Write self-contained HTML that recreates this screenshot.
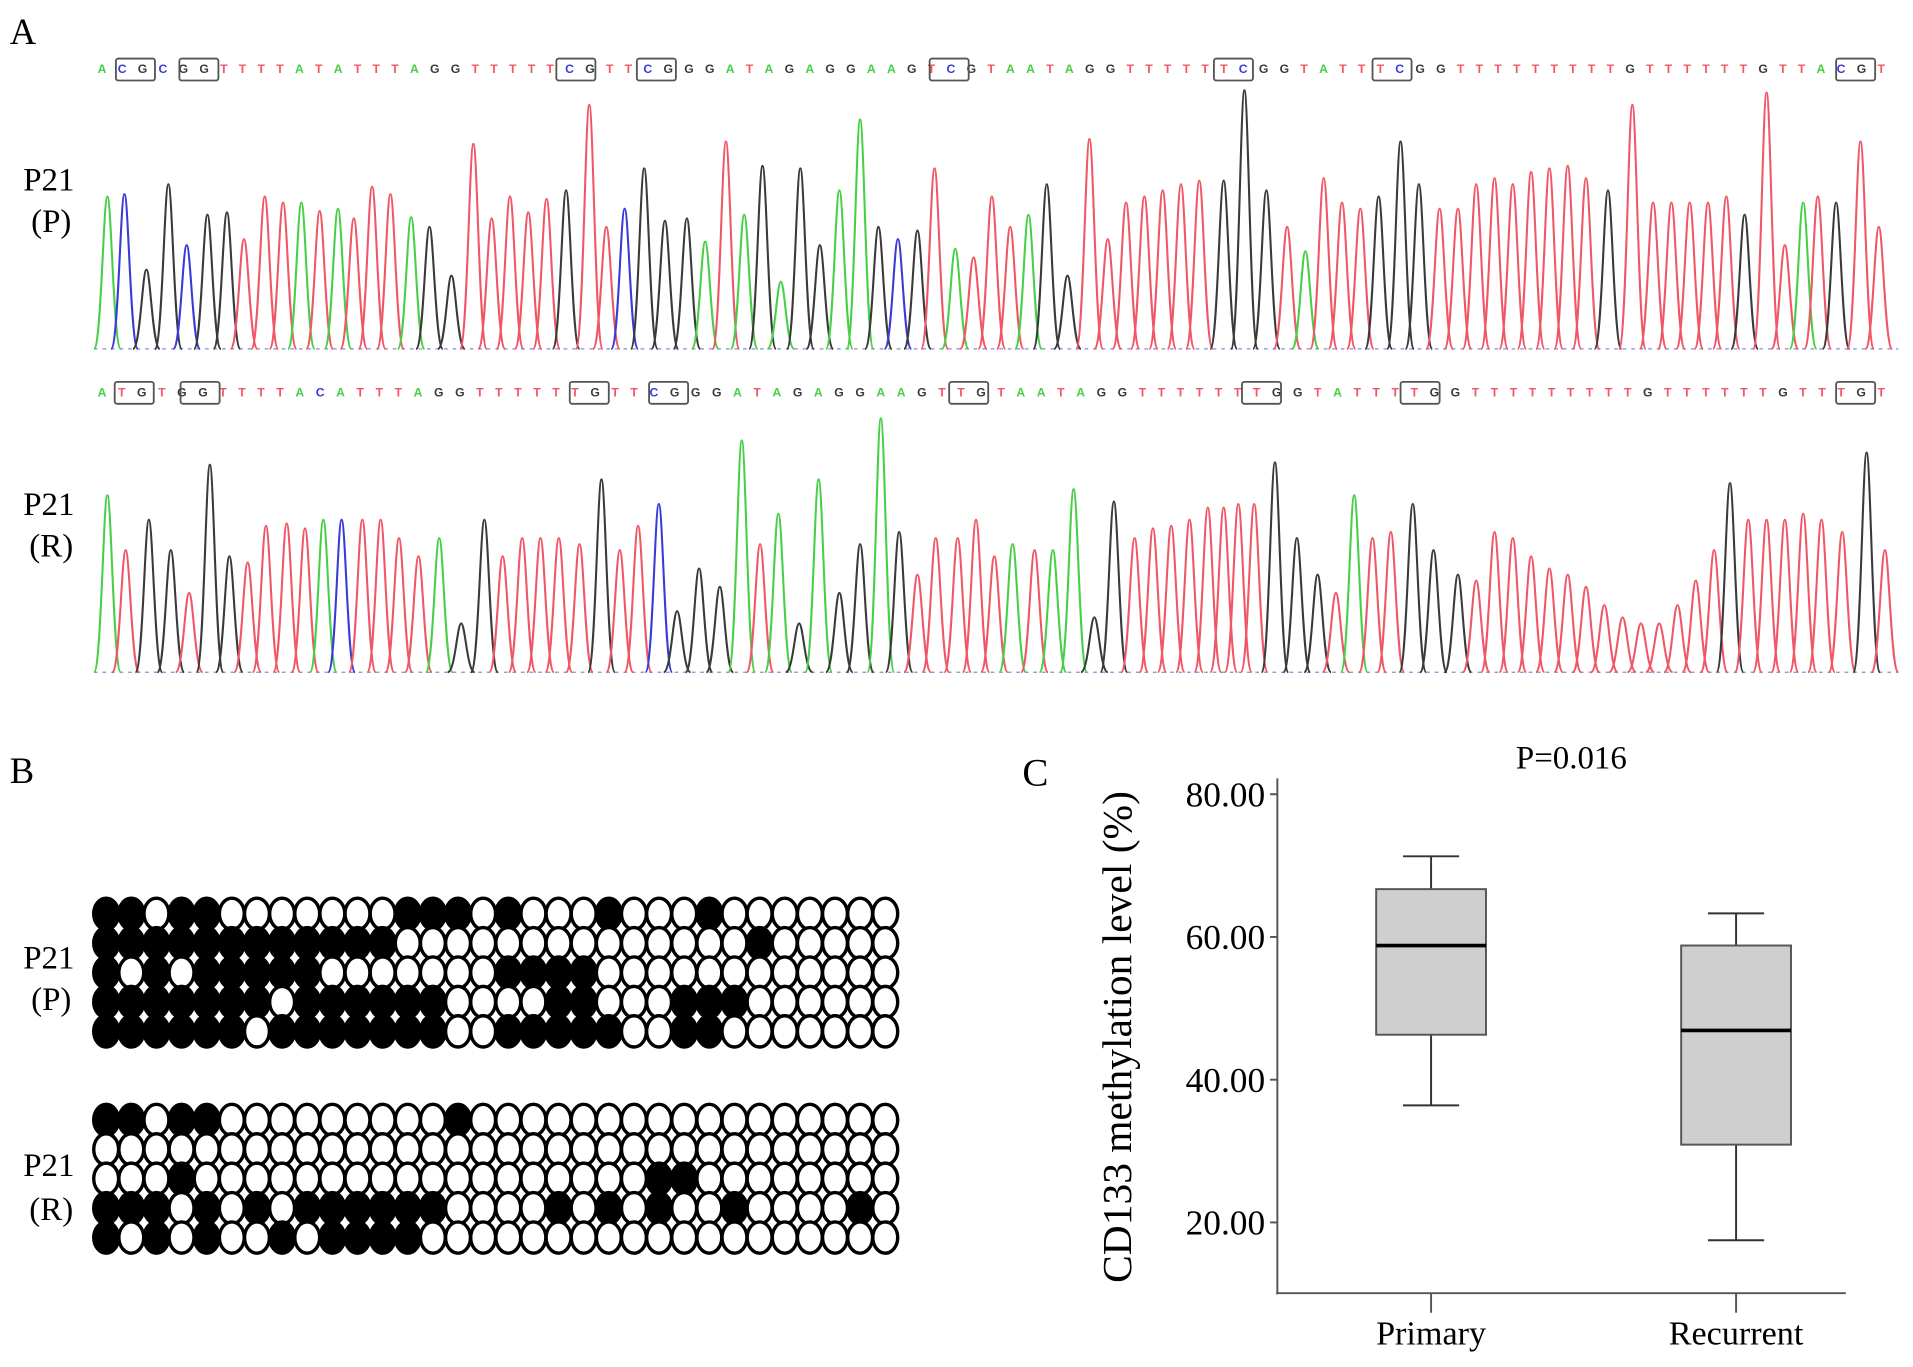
<!DOCTYPE html>
<html><head><meta charset="utf-8"><style>
html,body{margin:0;padding:0;background:#fff;}
svg{display:block;font-family:"Liberation Serif",serif;}
</style></head><body>
<svg id="fig" width="1913" height="1367" viewBox="0 0 1568 1120.5" xmlns="http://www.w3.org/2000/svg">
<rect width="1568" height="1120.5" fill="#fff"/>
<text x="8" y="36" font-size="30">A</text>
<text x="40" y="156" font-size="27" text-anchor="middle">P21</text>
<text x="42" y="190" font-size="27" text-anchor="middle">(P)</text>
<text x="40" y="422" font-size="27" text-anchor="middle">P21</text>
<text x="42" y="456" font-size="27" text-anchor="middle">(R)</text>
<text x="8" y="642" font-size="30">B</text>
<text x="40" y="794" font-size="27" text-anchor="middle">P21</text>
<text x="42" y="828" font-size="27" text-anchor="middle">(P)</text>
<text x="40" y="964" font-size="27" text-anchor="middle">P21</text>
<text x="42" y="1000" font-size="27" text-anchor="middle">(R)</text>
<text x="838" y="644" font-size="32">C</text>
<g id="traces"></g>
<g id="grids"></g>
<g id="boxplot"></g>
</svg>
<script>
const NS="http://www.w3.org/2000/svg";
function mk(tag,attrs,parent){const e=document.createElementNS(NS,tag);for(const k in attrs)e.setAttribute(k,attrs[k]);parent.appendChild(e);return e;}
const colors={T:"#ef5766",G:"#3a3a3a",A:"#48cf48",C:"#3a3ad6"};

// ---- Panel A data ----
const seqP="ACGCGGTTTTATATTTAGGTTTTTCGTTCGGGATAGAGGAAGTCGTAATAGGTTTTTTCGGTATTTCGGTTTTTTTTTGTTTTTTGTTACGT";
const seqR="ATGTGGTTTTACATTTAGGTTTTTTGTTCGGGATAGAGGAAGTTGTAATAGGTTTTTTTGGTATTTTGGTTTTTTTTTGTTTTTTGTTTGT";
const peakPosP=[88,102,120,138,153,170,186,200,217,232,247,262,277,290,305,320,337,352,370,388,403,418,433,448,464,483,497,512,528,545,563,578,595,610,625,640,656,672,688,705,720,736,752,766,783,798,813,828,843,858,875,893,908,923,938,953,968,983,1003,1020,1038,1055,1070,1085,1100,1115,1130,1148,1163,1180,1195,1210,1225,1240,1255,1270,1285,1300,1318,1338,1355,1370,1385,1400,1415,1430,1448,1463,1478,1490,1505,1525,1540];
const peakBaseP="ACGGCGGTTTATATTTAGGTTTTTGTTCGGGATAGAGGAAGCGTATTTAGGTTTTTTTGGGTATTTGGGTTTTTTTTTGTTTTTTGTTATGT";
const peakHP=[125,127,65,135,85,110,112,90,125,120,120,113,115,107,133,127,108,100,60,168,107,125,112,123,130,200,100,115,148,105,107,88,170,110,150,55,148,85,130,188,100,90,97,148,82,75,125,100,110,135,60,172,90,120,125,130,135,138,138,212,130,100,80,140,120,115,125,170,135,115,115,135,140,135,145,148,150,140,130,200,120,120,120,120,125,110,210,85,120,125,120,170,100];
const peakPosR=[88,103,122,140,155,172,188,203,218,235,250,265,280,297,312,327,343,360,378,397,412,428,443,458,475,493,508,523,540,555,573,590,608,623,638,655,671,688,705,722,737,752,767,785,800,815,830,848,863,880,897,913,930,945,960,975,990,1003,1015,1028,1045,1063,1080,1095,1110,1125,1140,1158,1175,1195,1210,1225,1240,1255,1270,1285,1300,1315,1330,1345,1360,1375,1390,1405,1418,1433,1448,1463,1478,1493,1510,1530,1545];
const peakBaseR="ATGGTGGTTTTACTTTTAGGTTTTTGTTCGGGATAGAGGAGTTTTTATAAGGTTTTTTTTGGGTATTGGGTTTTTTTTTTTTTTGTTTTTTGT";
const peakHR=[145,100,125,100,65,170,95,90,120,122,118,125,125,125,125,110,95,110,40,125,95,110,110,110,105,158,100,120,138,50,85,70,190,105,130,40,158,65,105,208,115,80,110,110,125,95,105,100,100,150,45,140,110,118,120,125,135,135,138,138,172,110,80,65,145,110,115,138,100,80,75,115,110,95,85,80,70,55,45,40,40,55,75,100,155,125,125,125,130,125,115,180,100];
const boxesP=[95,147,456,522,762,995,1125,1505];
const boxesR=[94,148,467,532,778,1018,1148,1505];

const tr=document.getElementById('traces');
function drawTrace(name,pos,bases,hs,baseY,seq,boxes,seqY){
  const g=mk('g',{},tr);
  
  
  const bl=mk('line',{x1:77,x2:1556,y1:baseY,y2:baseY,stroke:"#8a8ad0","stroke-width":1,"stroke-dasharray":"3 4"},g);
  
  
  for(let i=0;i<pos.length;i++){
    const x=pos[i],h=hs[i],w=11,b=bases[i]||'T';
    const d=`M${x-w},${baseY} C${x-w*0.45},${baseY} ${x-w*0.3},${baseY-h} ${x},${baseY-h} C${x+w*0.3},${baseY-h} ${x+w*0.45},${baseY} ${x+w},${baseY}`;
    const p=mk('path',{d:d,fill:"none",stroke:colors[b]||colors.T,"stroke-width":1.7},g);
    
    
  }
  const t=mk('text',{x:80,y:seqY,"font-size":10,"font-family":"Liberation Sans, sans-serif",textLength:1465,lengthAdjust:"spacing","font-weight":"bold"},g);
  
  
  for(const ch of seq){const s=mk('tspan',{fill:colors[ch]},t);s.textContent=ch;}
  for(const bx of boxes){
    const r=mk('rect',{x:bx,y:seqY-12,width:32,height:18,fill:"none",stroke:"#555","stroke-width":1.5,rx:2},g);
    
    
  }
}
drawTrace('trace-p',peakPosP,peakBaseP,peakHP,286,seqP,boxesP,60);
drawTrace('trace-r',peakPosR,peakBaseR,peakHR,551,seqR,boxesR,325);

// ---- Panel B data ----
const gridP=[
"11011000000011101000100010000000",
"11111111111100000000000000100000",
"10101111100000001111000000000000",
"11111110111111000011000111000000",
"11111101111111001111100110000000"];
const gridR=[
"11011000000000100000000000000000",
"00000000000000000000000000000000",
"00010000000000000000001100000000",
"11101010111111000010101001000010",
"10101001011110000000000000000000"];
const gr=document.getElementById('grids');
function drawGrid(name,rows,y0){
  rows.forEach((row,ri)=>{
    for(let c=0;c<row.length;c++){
      const cx=87+c*20.6, cy=y0+ri*24.1;
      const e=mk('ellipse',{cx:cx,cy:cy,rx:10.2,ry:12.8,fill:row[c]==='1'?'#000':'#fff',stroke:'#000','stroke-width':2.8},gr);
      
      
    }
  });
}
drawGrid('grid-p',gridP,749);
drawGrid('grid-r',gridR,918);

// ---- Panel C data ----
const groups=["Primary","Recurrent"];
const whiskerMax=[71.3,63.3];
const q3=[66.7,58.8];
const medians=[58.8,46.9];
const q1=[46.3,30.9];
const whiskerMin=[36.4,17.5];
const yTicks=[20,40,60,80];
const yTickLabels=["20.00","40.00","60.00","80.00"];
const bp=document.getElementById('boxplot');
function Y(v){return 651+(80-v)*5.85;}
function X(i){return 1173+i*250;}
let e;
e=mk('line',{x1:1047,x2:1047,y1:638,y2:1061,stroke:"#555","stroke-width":1.6},bp);

e=mk('line',{x1:1046,x2:1513,y1:1060,y2:1060,stroke:"#555","stroke-width":1.6},bp);

yTicks.forEach((v,i)=>{
  const t=mk('line',{x1:1041,x2:1047,y1:Y(v),y2:Y(v),stroke:"#555","stroke-width":1.6},bp);
  
  const l=mk('text',{x:1037,y:Y(v)+10,"font-size":29,"text-anchor":"end"},bp);
  
  l.textContent=yTickLabels[i];
});
groups.forEach((gname,i)=>{
  const x=X(i);
  const t=mk('line',{x1:x,x2:x,y1:1060,y2:1076,stroke:"#555","stroke-width":1.6},bp);
  
  const l=mk('text',{x:x,y:1102,"font-size":28,"text-anchor":"middle"},bp);
  
  l.textContent=gname;
  let w=mk('line',{x1:x,x2:x,y1:Y(whiskerMax[i]),y2:Y(q3[i]),stroke:"#333","stroke-width":1.6},bp);
  
  w=mk('line',{x1:x,x2:x,y1:Y(q1[i]),y2:Y(whiskerMin[i]),stroke:"#333","stroke-width":1.6},bp);
  
  w=mk('line',{x1:x-23,x2:x+23,y1:Y(whiskerMax[i]),y2:Y(whiskerMax[i]),stroke:"#333","stroke-width":1.6},bp);
  
  w=mk('line',{x1:x-23,x2:x+23,y1:Y(whiskerMin[i]),y2:Y(whiskerMin[i]),stroke:"#333","stroke-width":1.6},bp);
  
  const b=mk('rect',{x:x-45,y:Y(q3[i]),width:90,height:Y(q1[i])-Y(q3[i]),fill:"#cfcfcf",stroke:"#555","stroke-width":1.6},bp);
  
  const m=mk('line',{x1:x-45,x2:x+45,y1:Y(medians[i]),y2:Y(medians[i]),stroke:"#000","stroke-width":3},bp);
  
});
e=mk('text',{x:927,y:850,"font-size":34,"text-anchor":"middle",transform:"rotate(-90 927 850)"},bp);

e.textContent="CD133 methylation level (%)";
e=mk('text',{x:1288,y:630,"font-size":27,"text-anchor":"middle"},bp);

e.textContent="P=0.016";
</script>
</body></html>
